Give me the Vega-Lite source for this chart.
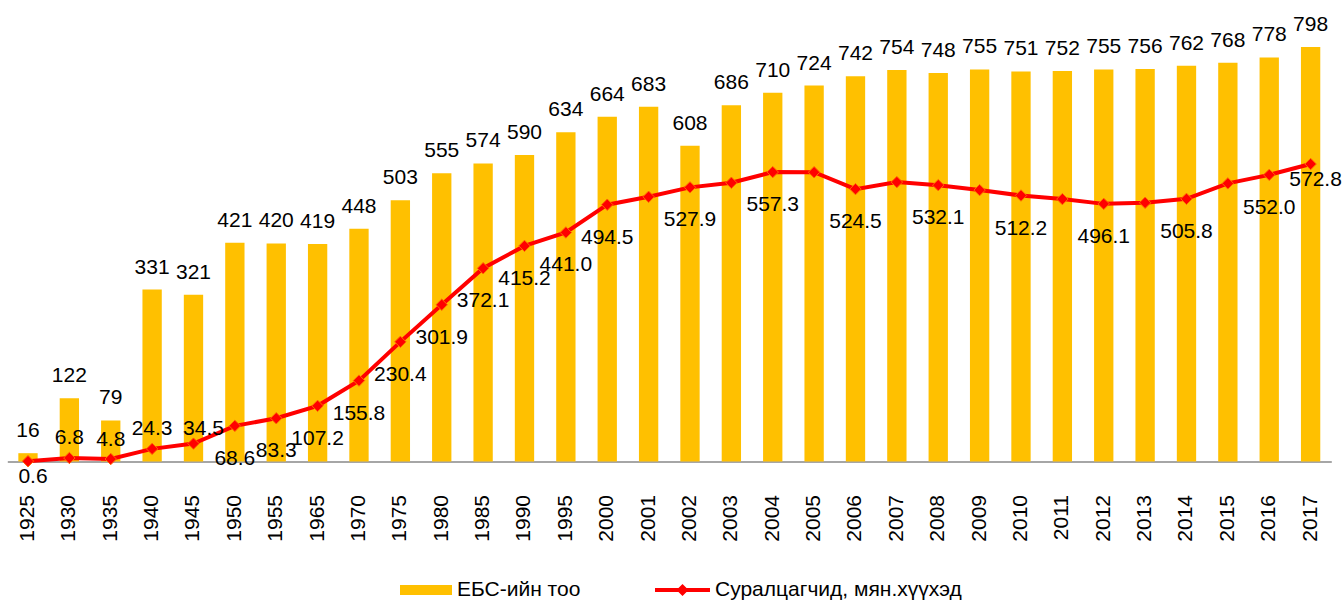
{
  "$schema": "https://vega.github.io/schema/vega-lite/v6.json",
  "width": 1324,
  "height": 457,
  "autosize": "none",
  "padding": {"left": 7.3, "top": 4.5, "right": 12.7, "bottom": 140.5},
  "background": "white",
  "config": {"view": {"stroke": null}, "font": "Liberation Sans"},
  "data": {
    "values": [
      {"year": "1925", "schools": 16, "students": 0.6},
      {"year": "1930", "schools": 122, "students": 6.8},
      {"year": "1935", "schools": 79, "students": 4.8},
      {"year": "1940", "schools": 331, "students": 24.3},
      {"year": "1945", "schools": 321, "students": 34.5},
      {"year": "1950", "schools": 421, "students": 68.6},
      {"year": "1955", "schools": 420, "students": 83.3},
      {"year": "1965", "schools": 419, "students": 107.2},
      {"year": "1970", "schools": 448, "students": 155.8},
      {"year": "1975", "schools": 503, "students": 230.4},
      {"year": "1980", "schools": 555, "students": 301.9},
      {"year": "1985", "schools": 574, "students": 372.1},
      {"year": "1990", "schools": 590, "students": 415.2},
      {"year": "1995", "schools": 634, "students": 441.0},
      {"year": "2000", "schools": 664, "students": 494.5},
      {"year": "2001", "schools": 683, "students": 509.7},
      {"year": "2002", "schools": 608, "students": 527.9},
      {"year": "2003", "schools": 686, "students": 536.7},
      {"year": "2004", "schools": 710, "students": 557.3},
      {"year": "2005", "schools": 724, "students": 557.0},
      {"year": "2006", "schools": 742, "students": 524.5},
      {"year": "2007", "schools": 754, "students": 538.0},
      {"year": "2008", "schools": 748, "students": 532.1},
      {"year": "2009", "schools": 755, "students": 522.6},
      {"year": "2010", "schools": 751, "students": 512.2},
      {"year": "2011", "schools": 752, "students": 505.3},
      {"year": "2012", "schools": 755, "students": 496.1},
      {"year": "2013", "schools": 756, "students": 498.2},
      {"year": "2014", "schools": 762, "students": 505.8},
      {"year": "2015", "schools": 768, "students": 535.5},
      {"year": "2016", "schools": 778, "students": 552.0},
      {"year": "2017", "schools": 798, "students": 572.8}
    ]
  },
  "encoding": {
    "x": {
      "field": "year",
      "type": "ordinal",
      "scale": {"paddingInner": 0.533, "paddingOuter": 0.2665},
      "axis": {
        "title": null,
        "labelAngle": -90,
        "labelFontSize": 21,
        "labelFont": "Liberation Sans",
        "labelColor": "#000000",
        "ticks": false,
        "tickSize": 0,
        "labelPadding": 33,
        "domainColor": "#898989",
        "domainWidth": 1.3,
        "grid": false
      }
    }
  },
  "layer": [
    {
      "mark": {"type": "bar", "opacity": 1},
      "encoding": {
        "y": {"field": "schools", "type": "quantitative", "scale": {"domain": [0, 880]}, "axis": null},
        "fill": {
          "datum": "ЕБС-ийн тоо",
          "type": "nominal",
          "scale": {"range": ["#FFC000"]},
          "legend": {
            "orient": "none",
            "legendX": 392.7,
            "legendY": 559.5,
            "title": null,
            "padding": 0,
            "symbolType": "M-1,-0.192H1V0.192H-1Z",
            "symbolSize": 2704,
            "symbolStrokeWidth": 0,
            "symbolOpacity": 1,
            "labelFontSize": 21,
            "labelFont": "Liberation Sans",
            "labelColor": "#000000",
            "labelOffset": 5,
            "labelLimit": 500
          }
        }
      }
    },
    {
      "mark": {"type": "text", "fontSize": 21, "baseline": "alphabetic", "align": "center", "dy": -16, "color": "#000000"},
      "encoding": {
        "y": {"field": "schools", "type": "quantitative", "scale": {"domain": [0, 880]}, "axis": null},
        "text": {"field": "schools", "type": "quantitative", "format": "d"}
      }
    },
    {
      "mark": {"type": "line", "strokeWidth": 4, "interpolate": "linear"},
      "encoding": {
        "y": {"field": "students", "type": "quantitative", "scale": {"domain": [0, 880]}, "axis": null},
        "stroke": {
          "datum": "Суралцагчид, мян.хүүхэд",
          "type": "nominal",
          "scale": {"range": ["#FF0000"]},
          "legend": {
            "orient": "none",
            "legendX": 647.7,
            "legendY": 558,
            "title": null,
            "padding": 0,
            "symbolType": "M-1,-0.073H1V0.073H-1Z M0,-0.22L0.22,0L0,0.22L-0.22,0Z",
            "symbolSize": 3025,
            "symbolFillColor": "#FF0000",
            "symbolStrokeColor": "#FF0000",
            "symbolStrokeWidth": 0,
            "symbolOpacity": 1,
            "labelFontSize": 21,
            "labelFont": "Liberation Sans",
            "labelColor": "#000000",
            "labelOffset": 5,
            "labelLimit": 500
          }
        }
      }
    },
    {
      "mark": {"type": "point", "shape": "diamond", "filled": true, "size": 130, "fill": "#FF0000", "stroke": "#FF6A00", "strokeWidth": 1, "opacity": 1},
      "encoding": {
        "y": {"field": "students", "type": "quantitative", "scale": {"domain": [0, 880]}, "axis": null}
      }
    },
    {
      "transform": [{"filter": {"field": "year", "oneOf": ["1950", "1955", "1965", "1970", "1975", "1980", "1985", "1990", "1995", "2000", "2002", "2004", "2006", "2008", "2010", "2012", "2014", "2016"]}}],
      "mark": {"type": "text", "fontSize": 21, "baseline": "alphabetic", "align": "center", "dy": 39, "color": "#000000"},
      "encoding": {
        "y": {"field": "students", "type": "quantitative", "scale": {"domain": [0, 880]}, "axis": null},
        "text": {"field": "students", "type": "quantitative", "format": ".1f"}
      }
    },
    {
      "transform": [{"filter": {"field": "year", "oneOf": ["1930", "1935", "1940"]}}],
      "mark": {"type": "text", "fontSize": 21, "baseline": "alphabetic", "align": "center", "dy": -13.5, "color": "#000000"},
      "encoding": {
        "y": {"field": "students", "type": "quantitative", "scale": {"domain": [0, 880]}, "axis": null},
        "text": {"field": "students", "type": "quantitative", "format": ".1f"}
      }
    },
    {
      "transform": [{"filter": {"field": "year", "oneOf": ["1945"]}}],
      "mark": {"type": "text", "fontSize": 21, "baseline": "alphabetic", "align": "center", "dx": 10, "dy": -8.5, "color": "#000000"},
      "encoding": {
        "y": {"field": "students", "type": "quantitative", "scale": {"domain": [0, 880]}, "axis": null},
        "text": {"field": "students", "type": "quantitative", "format": ".1f"}
      }
    },
    {
      "transform": [{"filter": {"field": "year", "oneOf": ["1925", "2017"]}}],
      "mark": {"type": "text", "fontSize": 21, "baseline": "alphabetic", "align": "center", "dx": 5, "dy": 22, "color": "#000000"},
      "encoding": {
        "y": {"field": "students", "type": "quantitative", "scale": {"domain": [0, 880]}, "axis": null},
        "text": {"field": "students", "type": "quantitative", "format": ".1f"}
      }
    }
  ]
}
